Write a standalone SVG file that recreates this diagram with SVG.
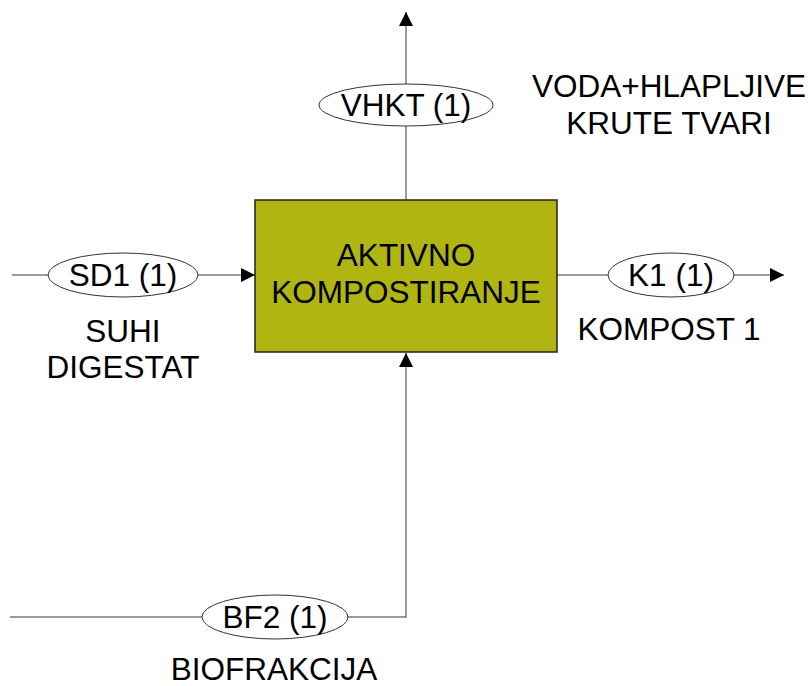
<svg xmlns="http://www.w3.org/2000/svg" width="811" height="686" viewBox="0 0 811 686">
<style>
text{font-family:"Liberation Sans",Arial,sans-serif;font-size:31.5px;fill:#000;text-anchor:middle}
.ln{stroke:#7a7a7a;stroke-width:1.5;fill:none}
.el{fill:#fff;stroke:#333;stroke-width:1}
</style>
<defs>
<marker id="ah" markerWidth="14" markerHeight="14" refX="14" refY="7" orient="auto" markerUnits="userSpaceOnUse">
<path d="M0,0 L14,7 L0,14 Z" fill="#000"/>
</marker>
</defs>
<rect width="811" height="686" fill="#fff"/>
<g id="connectors">
<line class="ln" x1="406" y1="200" x2="406" y2="12" marker-end="url(#ah)"/>
<line class="ln" x1="12" y1="275" x2="255" y2="275" marker-end="url(#ah)"/>
<line class="ln" x1="557" y1="275" x2="784" y2="275" marker-end="url(#ah)"/>
<polyline class="ln" points="10,617 406,617 406,353" marker-end="url(#ah)"/>
</g>
<g id="process">
<rect x="255" y="200" width="302" height="152" fill="#b0b512" stroke="#222" stroke-width="1.5"/>
<text x="406" y="266">AKTIVNO</text>
<text x="406" y="303">KOMPOSTIRANJE</text>
</g>
<g id="vhkt">
<ellipse class="el" cx="406" cy="105" rx="87" ry="21"/>
<text x="406" y="116">VHKT (1)</text>
<text x="669" y="97">VODA+HLAPLJIVE</text>
<text x="669" y="134">KRUTE TVARI</text>
</g>
<g id="sd1">
<ellipse class="el" cx="123" cy="275" rx="75" ry="22"/>
<text x="123" y="286">SD1 (1)</text>
<text x="123" y="342">SUHI</text>
<text x="123" y="378">DIGESTAT</text>
</g>
<g id="k1">
<ellipse class="el" cx="671" cy="275" rx="63" ry="22"/>
<text x="671" y="286">K1 (1)</text>
<text x="669" y="340">KOMPOST 1</text>
</g>
<g id="bf2">
<ellipse class="el" cx="275" cy="617" rx="73" ry="22"/>
<text x="275" y="628">BF2 (1)</text>
<text x="274" y="680">BIOFRAKCIJA</text>
</g>
</svg>
